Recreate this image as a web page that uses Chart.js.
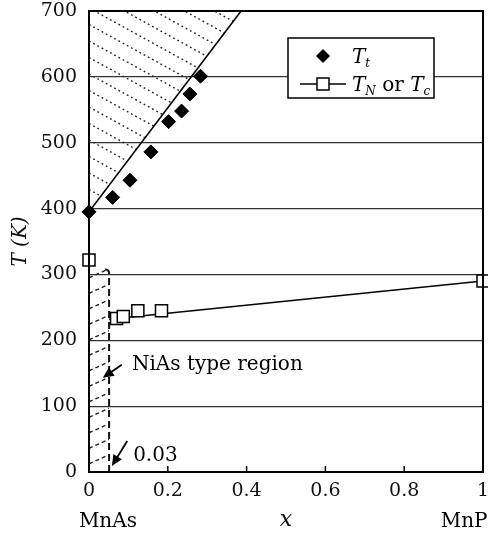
<!DOCTYPE html>
<html>
<head>
<meta charset="utf-8">
<script src="https://cdn.jsdelivr.net/npm/chart.js@4.4.0/dist/chart.umd.min.js"></script>
<style>
  html, body { margin: 0; padding: 0; background: #fff; }
</style>
</head>
<body>
<canvas id="phaseChart" width="488" height="534"></canvas>
<script>
// MnAs(1-x)P(x) phase diagram
const xTt = [0, 0.06, 0.104, 0.157, 0.202, 0.235, 0.256, 0.283];
const tTt = [395, 417, 443, 486, 532, 548, 574, 601];
const xTn = [0, 0.07, 0.087, 0.124, 0.184, 1.0];
const tTn = [322, 233, 236, 245, 245, 290];
const xTtFit = [0, 0.386];
const tTtFit = [395, 700];
const xTnFit = [0.051, 1.0];
const tTnFit = [232, 290];
const niasEdgeX = 0.051;
const niasEdgeT = 307;
const xTicks = [0, 0.2, 0.4, 0.6, 0.8, 1];
const yTicks = [0, 100, 200, 300, 400, 500, 600, 700];

const SERIF = '"DejaVu Serif", serif';
const pts = (xs, ys) => xs.map((x, i) => ({ x: x, y: ys[i] }));

function arrow(ctx, x1, y1, x2, y2) {
  const ang = Math.atan2(y2 - y1, x2 - x1);
  const hl = 11, hw = 5;
  ctx.beginPath();
  ctx.moveTo(x1, y1);
  ctx.lineTo(x2 - Math.cos(ang) * hl * 0.7, y2 - Math.sin(ang) * hl * 0.7);
  ctx.stroke();
  ctx.beginPath();
  ctx.moveTo(x2, y2);
  ctx.lineTo(x2 - Math.cos(ang) * hl - Math.sin(ang) * hw, y2 - Math.sin(ang) * hl + Math.cos(ang) * hw);
  ctx.lineTo(x2 - Math.cos(ang) * hl + Math.sin(ang) * hw, y2 - Math.sin(ang) * hl - Math.cos(ang) * hw);
  ctx.closePath();
  ctx.fill();
}

const decor = {
  id: 'decor',
  beforeDatasetsDraw(chart) {
    const { ctx, chartArea: a, scales: { x, y } } = chart;
    // hatched area above T_t line
    ctx.save();
    ctx.beginPath();
    ctx.moveTo(x.getPixelForValue(xTtFit[0]), y.getPixelForValue(tTtFit[0]));
    ctx.lineTo(x.getPixelForValue(xTtFit[1]), y.getPixelForValue(tTtFit[1]));
    ctx.lineTo(a.left, a.top);
    ctx.closePath();
    ctx.clip();
    ctx.strokeStyle = '#222';
    ctx.lineWidth = 1.4;
    ctx.setLineDash([1.8, 3]);
    for (let y0 = a.top - 300; y0 < a.bottom; y0 += 16.5) {
      ctx.beginPath();
      ctx.moveTo(a.left, y0);
      ctx.lineTo(a.left + 500, y0 + 500 * 0.55);
      ctx.stroke();
    }
    ctx.restore();

    // NiAs type region
    const bx = x.getPixelForValue(niasEdgeX);
    const by = y.getPixelForValue(niasEdgeT);
    ctx.save();
    ctx.beginPath();
    ctx.rect(a.left, by, bx - a.left, a.bottom - by);
    ctx.clip();
    ctx.strokeStyle = '#222';
    ctx.lineWidth = 1.4;
    ctx.setLineDash([4, 3]);
    for (let y0 = by + 8; y0 < a.bottom + 30; y0 += 15.5) {
      ctx.beginPath();
      ctx.moveTo(a.left, y0);
      ctx.lineTo(bx, y0 - (bx - a.left) * 0.45);
      ctx.stroke();
    }
    ctx.restore();
    ctx.save();
    ctx.strokeStyle = '#111';
    ctx.lineWidth = 2;
    ctx.setLineDash([7, 4]);
    ctx.beginPath();
    ctx.moveTo(bx, a.bottom);
    ctx.lineTo(bx, by + 3);
    ctx.quadraticCurveTo(bx, by, bx - 5, by - 1);
    ctx.stroke();
    ctx.restore();
  },
  afterDatasetsDraw(chart) {
    const { ctx, chartArea: a, scales: { x, y } } = chart;
    ctx.save();
    ctx.strokeStyle = '#000';
    ctx.fillStyle = '#000';
    // inner x ticks
    ctx.lineWidth = 1.5;
    xTicks.slice(1, -1).forEach(v => {
      const px = x.getPixelForValue(v);
      ctx.beginPath();
      ctx.moveTo(px, a.bottom);
      ctx.lineTo(px, a.bottom - 6);
      ctx.stroke();
    });
    // frame
    ctx.lineWidth = 2;
    ctx.strokeRect(a.left, a.top, a.right - a.left, a.bottom - a.top);

    // legend
    const lx = a.left + 199, ly = a.top + 27, lw = 146, lh = 60;
    ctx.fillStyle = '#fff';
    ctx.fillRect(lx, ly, lw, lh);
    ctx.lineWidth = 1.5;
    ctx.strokeRect(lx, ly, lw, lh);
    ctx.fillStyle = '#000';
    const mx = lx + 35;
    const r1 = ly + 18, r2 = ly + 46;
    ctx.beginPath();
    ctx.moveTo(mx, r1 - 7); ctx.lineTo(mx + 7, r1); ctx.lineTo(mx, r1 + 7); ctx.lineTo(mx - 7, r1);
    ctx.closePath();
    ctx.fill();
    ctx.beginPath();
    ctx.moveTo(mx - 23, r2); ctx.lineTo(mx + 23, r2);
    ctx.stroke();
    ctx.fillStyle = '#fff';
    ctx.fillRect(mx - 6, r2 - 6, 12, 12);
    ctx.strokeRect(mx - 6, r2 - 6, 12, 12);
    ctx.fillStyle = '#000';
    ctx.textBaseline = 'alphabetic';
    ctx.textAlign = 'left';
    const big = 'italic 20px ' + SERIF, sub = 'italic 12px ' + SERIF, up = '20px ' + SERIF;
    let tx = lx + 64;
    ctx.font = big; ctx.fillText('T', tx, r1 + 7); tx += ctx.measureText('T').width;
    ctx.font = sub; ctx.fillText('t', tx, r1 + 11);
    tx = lx + 64;
    ctx.font = big; ctx.fillText('T', tx, r2 + 7); tx += ctx.measureText('T').width;
    ctx.font = sub; ctx.fillText('N', tx, r2 + 11); tx += ctx.measureText('N').width;
    ctx.font = up; ctx.fillText(' or ', tx, r2 + 7); tx += ctx.measureText(' or ').width;
    ctx.font = big; ctx.fillText('T', tx, r2 + 7); tx += ctx.measureText('T').width;
    ctx.font = sub; ctx.fillText('c', tx, r2 + 11);

    // annotations
    ctx.font = '20px ' + SERIF;
    ctx.fillText('NiAs type region', x.getPixelForValue(0.109), y.getPixelForValue(155));
    ctx.fillText('0.03', x.getPixelForValue(0.112), y.getPixelForValue(17));
    ctx.lineWidth = 1.8;
    arrow(ctx, x.getPixelForValue(0.083), y.getPixelForValue(163), x.getPixelForValue(0.035), y.getPixelForValue(143));
    arrow(ctx, x.getPixelForValue(0.097), y.getPixelForValue(47), x.getPixelForValue(0.058), y.getPixelForValue(9));

    // compound names
    ctx.textAlign = 'center';
    ctx.textBaseline = 'middle';
    ctx.font = '20px ' + SERIF;
    ctx.fillText('MnAs', x.getPixelForValue(0.048), 522);
    ctx.fillText('MnP', x.getPixelForValue(0.952), 522);
    ctx.restore();
  }
};

new Chart(document.getElementById('phaseChart'), {
  type: 'scatter',
  data: {
    datasets: [
      {
        label: 'Tt',
        data: pts(xTt, tTt),
        pointStyle: 'rectRot',
        pointRadius: 7,
        pointHoverRadius: 7,
        backgroundColor: '#000',
        borderColor: '#000',
        borderWidth: 1,
        clip: false
      },
      {
        label: 'TN or Tc',
        data: pts(xTn, tTn),
        pointStyle: 'rect',
        pointRadius: 8.5,
        pointHoverRadius: 8.5,
        backgroundColor: '#fff',
        borderColor: '#000',
        borderWidth: 1.5,
        clip: false
      },
      {
        label: 'Tt line',
        data: pts(xTtFit, tTtFit),
        showLine: true,
        pointRadius: 0,
        borderColor: '#000',
        borderWidth: 1.6
      },
      {
        label: 'TN line',
        data: pts(xTnFit, tTnFit),
        showLine: true,
        pointRadius: 0,
        borderColor: '#000',
        borderWidth: 1.6
      }
    ]
  },
  options: {
    responsive: false,
    animation: false,
    layout: { autoPadding: false, padding: { top: 11, right: 5, left: 0, bottom: 0 } },
    plugins: {
      legend: { display: false },
      tooltip: { enabled: false }
    },
    scales: {
      x: {
        type: 'linear',
        min: 0,
        max: 1,
        afterBuildTicks: s => { s.ticks = xTicks.map(v => ({ value: v })); },
        afterFit: s => { s.height = 62; s.paddingRight = 0; s.paddingLeft = 0; },
        grid: { display: false, drawTicks: true, tickLength: 8, tickColor: 'rgba(0,0,0,0)' },
        border: { display: true, color: '#000', width: 2 },
        ticks: {
          color: '#111',
          padding: 0,
          maxRotation: 0,
          callback: v => String(v),
          font: { family: SERIF, size: 19 }
        },
        title: {
          display: true,
          text: 'x',
          color: '#111',
          padding: { top: 0, bottom: 1 },
          font: { family: SERIF, size: 22, style: 'italic' }
        }
      },
      y: {
        min: 0,
        max: 700,
        afterBuildTicks: s => { s.ticks = yTicks.map(v => ({ value: v })); },
        afterFit: s => { s.width = 89; s.paddingTop = 0; s.paddingBottom = 0; },
        grid: { color: '#333', lineWidth: 1.2, drawTicks: false },
        border: { display: true, color: '#000', width: 2 },
        ticks: {
          color: '#111',
          padding: 12,
          font: { family: SERIF, size: 19 }
        },
        title: {
          display: true,
          text: 'T (K)',
          color: '#111',
          padding: { top: 9, bottom: 0 },
          font: { family: SERIF, size: 20, style: 'italic' }
        }
      }
    }
  },
  plugins: [decor]
});
</script>
</body>
</html>
